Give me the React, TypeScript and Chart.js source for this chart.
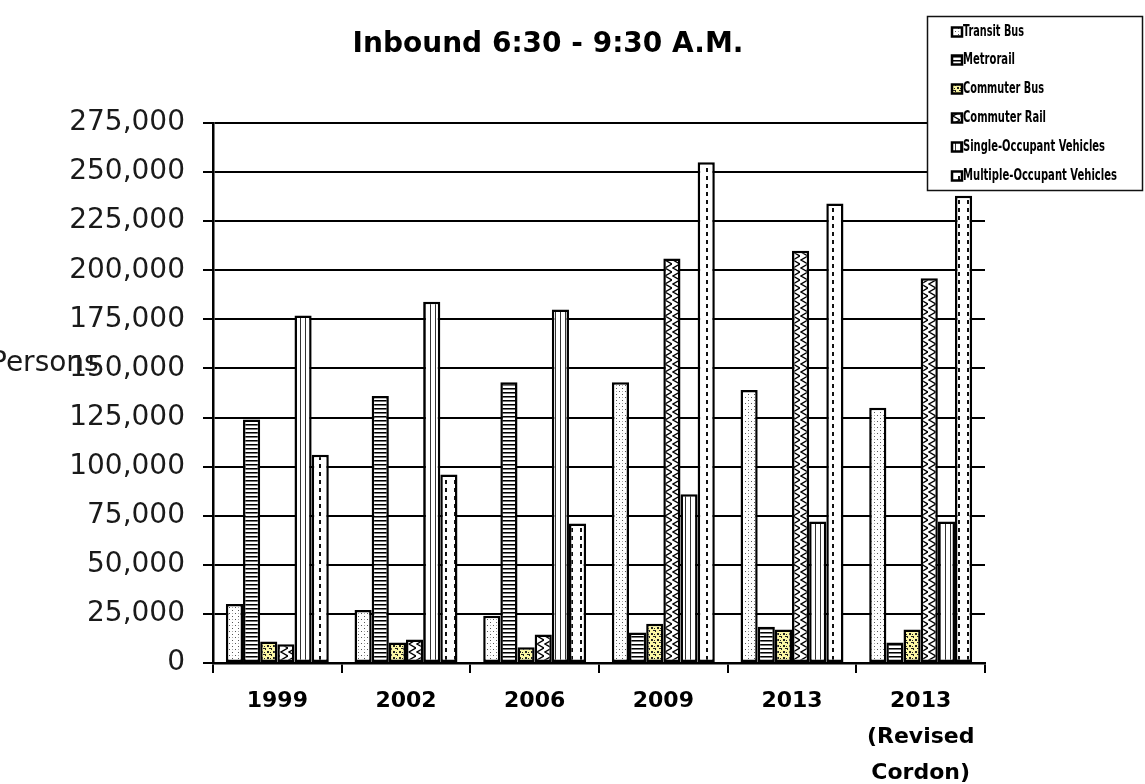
import React, { useEffect, useRef } from 'react';
import { Chart, registerables } from 'chart.js';

Chart.register(...registerables);

// ---------- data ----------
const categories: (string | string[])[] = ['1999', '2002', '2006', '2009', '2013', ['2013', '(Revised', 'Cordon)']];
const seriesNames = [
  'Transit Bus',
  'Metrorail',
  'Commuter Bus',
  'Commuter Rail',
  'Single-Occupant Vehicles',
  'Multiple-Occupant Vehicles',
];
const transitBus = [30000, 27000, 24000, 143000, 139000, 130000];
const metrorail = [124000, 136000, 143000, 15500, 18500, 10500];
const commuterBus = [11000, 10500, 8000, 20000, 17000, 17000];
const commuterRail = [9500, 12000, 14500, 206000, 210000, 196000];
const singleOccupant = [177000, 184000, 180000, 86000, 72000, 72000];
const multipleOccupant = [106000, 96000, 71000, 255000, 234000, 238000];
const yMin = 0;
const yMax = 275000;
const yStep = 25000;
const chartTitle = 'Inbound 6:30 - 9:30 A.M.';
const yTitle = 'Persons';

const FONT = "'DejaVu Sans', Verdana, sans-serif";
const W = 1145;
const H = 784;

type Painter = (g: CanvasRenderingContext2D) => void;

function makePattern(w: number, h: number, bg: string, paint: Painter): CanvasPattern | string {
  const c = document.createElement('canvas');
  c.width = w;
  c.height = h;
  const g = c.getContext('2d');
  if (!g) return bg;
  g.fillStyle = bg;
  g.fillRect(0, 0, w, h);
  paint(g);
  return g.createPattern(c, 'repeat') || bg;
}

function buildPatterns() {
  const dots = makePattern(6, 6, '#ffffff', (g) => {
    g.fillStyle = '#555';
    g.fillRect(1, 1, 1, 1);
    g.fillRect(4, 4, 1, 1);
    g.fillStyle = '#aaa';
    g.fillRect(4, 1, 1, 1);
  });
  const hLines = makePattern(4, 4, '#ffffff', (g) => {
    g.fillStyle = '#000';
    g.fillRect(0, 0, 4, 1);
    g.fillStyle = '#777';
    g.fillRect(0, 1, 4, 1);
  });
  const confetti = makePattern(6, 6, '#fbf6a4', (g) => {
    g.fillStyle = '#222';
    g.fillRect(0, 0, 2, 1);
    g.fillRect(1, 1, 1, 1);
    g.fillRect(3, 3, 2, 2);
    g.fillRect(5, 0, 1, 1);
    g.fillRect(0, 4, 1, 1);
  });
  const zigzag = makePattern(8, 8, '#ffffff', (g) => {
    g.strokeStyle = '#000';
    g.lineWidth = 1.4;
    g.beginPath();
    g.moveTo(8, 0);
    g.lineTo(1, 4);
    g.lineTo(8, 8);
    g.stroke();
  });
  const vLines = makePattern(5, 2, '#ffffff', (g) => {
    g.fillStyle = '#333';
    g.fillRect(0, 0, 1, 2);
  });
  const dashed = makePattern(9, 8, '#ffffff', (g) => {
    g.fillStyle = '#111';
    g.fillRect(4, 0, 2, 4);
  });
  return [dots, hLines, confetti, zigzag, vLines, dashed];
}

export default function App() {
  const canvasRef = useRef<HTMLCanvasElement | null>(null);

  useEffect(() => {
    const canvas = canvasRef.current;
    if (!canvas) return;
    const patterns = buildPatterns();
    const values = [transitBus, metrorail, commuterBus, commuterRail, singleOccupant, multipleOccupant];

    const legendWidths = [61, 52, 81, 83, 142, 154];

    const decorPlugin = {
      id: 'decor',
      afterDraw(chart: Chart) {
        const ctx = chart.ctx;
        ctx.save();
        // title
        ctx.fillStyle = '#000';
        ctx.font = `bold 28px ${FONT}`;
        ctx.textAlign = 'center';
        ctx.textBaseline = 'middle';
        ctx.fillText(chartTitle, 548, 45);

        // horizontal y-axis title
        ctx.fillStyle = '#1a1a1a';
        ctx.font = `28px ${FONT}`;
        ctx.textAlign = 'left';
        ctx.fillText(yTitle, -10, 364);

        // legend
        const bx = 927;
        const by = 16;
        const bw = 216;
        const bh = 175;
        ctx.fillStyle = '#ffffff';
        ctx.fillRect(bx, by, bw, bh);
        ctx.strokeStyle = '#111';
        ctx.lineWidth = 1.5;
        ctx.strokeRect(bx + 0.5, by + 0.5, bw - 1, bh - 1);
        const rowY = [32, 60, 89, 118, 147, 176];
        seriesNames.forEach((name, i) => {
          const y = rowY[i];
          ctx.fillStyle = patterns[i] as any;
          ctx.fillRect(952, y - 4.5, 10, 9);
          ctx.strokeStyle = '#000';
          ctx.lineWidth = 2.5;
          ctx.strokeRect(952, y - 4.5, 10, 9);
          ctx.fillStyle = '#000';
          ctx.font = `bold 15px 'DejaVu Sans Condensed', 'Liberation Sans Narrow', ${FONT}`;
          ctx.textAlign = 'left';
          ctx.textBaseline = 'middle';
          ctx.fillText(name, 963, y, legendWidths[i]);
        });
        ctx.restore();
      },
    };

    const chart = new Chart(canvas, {
      type: 'bar',
      data: {
        labels: categories as any,
        datasets: seriesNames.map((name, i) => ({
          label: name,
          data: values[i],
          backgroundColor: patterns[i] as any,
          borderColor: '#000',
          borderWidth: 2.5,
          borderSkipped: false,
          categoryPercentage: 0.8,
          barPercentage: 1.0,
        })),
      },
      options: {
        responsive: false,
        maintainAspectRatio: false,
        devicePixelRatio: 1,
        animation: false,
        layout: { padding: { top: 123, right: 160, bottom: 0, left: 0 } },
        plugins: {
          legend: { display: false },
          title: { display: false },
          tooltip: { enabled: false },
        },
        scales: {
          x: {
            offset: true,
            grid: {
              display: true,
              drawOnChartArea: false,
              drawTicks: true,
              tickLength: 10,
              color: '#000',
              lineWidth: 2,
              offset: true,
            },
            border: { display: true, color: '#000', width: 2.5 },
            ticks: {
              color: '#000',
              font: { family: FONT, size: 22, weight: 'bold', lineHeight: 1.64 },
              padding: 10,
              maxRotation: 0,
              autoSkip: false,
            },
            afterFit: (scale: any) => {
              scale.height = 121;
            },
          },
          y: {
            min: yMin,
            max: yMax,
            grid: {
              color: '#000',
              lineWidth: 2,
              drawTicks: true,
              tickLength: 10,
            },
            border: { display: true, color: '#000', width: 2.5 },
            ticks: {
              stepSize: yStep,
              color: '#1a1a1a',
              padding: 18,
              font: { family: FONT, size: 28 },
              callback: (v: any) => Number(v).toLocaleString('en-US'),
            },
            afterFit: (scale: any) => {
              scale.width = 213;
            },
          },
        },
      },
      plugins: [decorPlugin],
    });

    return () => chart.destroy();
  }, []);

  return (
    <canvas
      ref={canvasRef}
      width={W}
      height={H}
      style={{ position: 'absolute', left: 0, top: 0, width: W, height: H, background: '#fff' }}
    />
  );
}
